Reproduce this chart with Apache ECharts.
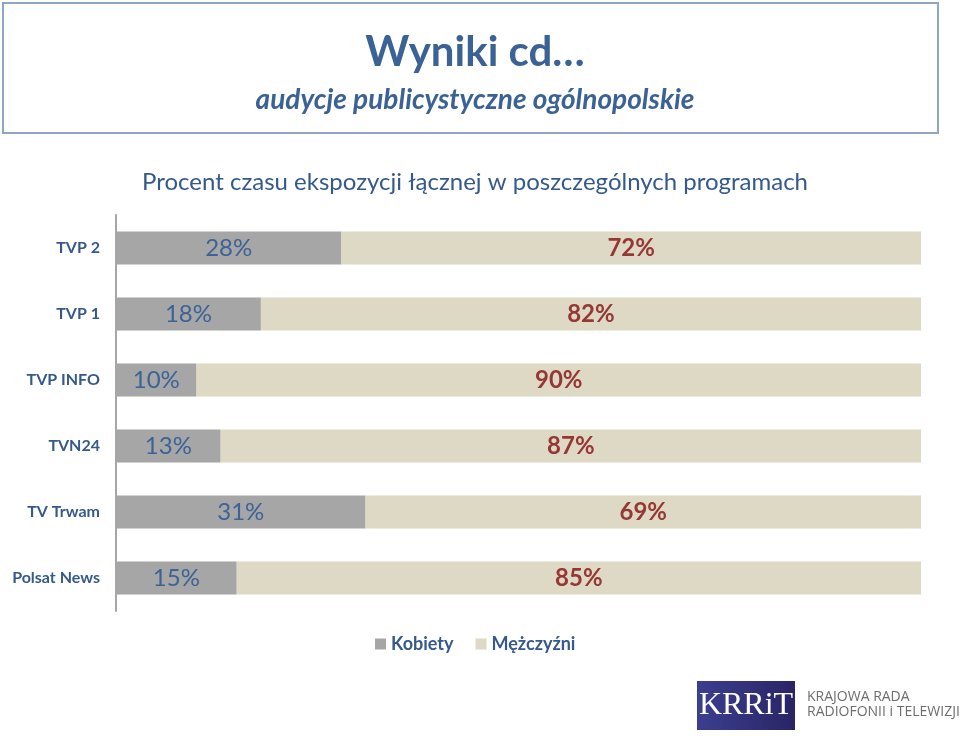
<!DOCTYPE html>
<html>
<head>
<meta charset="utf-8">
<script src="https://cdn.jsdelivr.net/npm/echarts@6/dist/echarts.min.js"></script>
<style>
	html, body { margin: 0; padding: 0; background: #fff; }
	#chart { width: 960px; height: 736px; }
</style>
</head>
<body>
<div id="chart"></div>
<script>
const channels = ["TVP 2", "TVP 1", "TVP INFO", "TVN24", "TV Trwam", "Polsat News"]
const women = [28, 18, 10, 13, 31, 15]
const men = [72, 82, 90, 87, 69, 85]

const FONT = "Lato, 'Open Sans', sans-serif"
const BLUE = "#35598b"

const chartInstance = echarts.init(document.getElementById("chart"))

const options = {
	animation: false,
	textStyle: { fontFamily: FONT },
	title: [
		{
			text: "Wyniki cd…",
			left: 470,
			top: 26,
			textAlign: "center",
			textStyle: { fontSize: 42, fontWeight: "bold", color: "#3a6294", fontFamily: FONT },
		},
		{
			text: "audycje publicystyczne ogólnopolskie",
			left: 470,
			top: 81,
			textAlign: "center",
			textStyle: { fontSize: 28, fontStyle: "italic", fontWeight: "bold", color: "#3a6294", fontFamily: FONT },
		},
		{
			text: "Procent czasu ekspozycji łącznej w poszczególnych programach",
			left: 470,
			top: 165,
			textAlign: "center",
			textStyle: { fontSize: 24, fontWeight: "normal", color: BLUE, fontFamily: FONT },
		},
	],
	graphic: [
		{
			type: "rect",
			shape: { x: 3, y: 3, width: 935, height: 130 },
			style: { fill: "none", stroke: "#8fa7c4", lineWidth: 2 },
		},
		// KRRiT logo
		{
			type: "rect",
			shape: { x: 697, y: 681, width: 98, height: 49 },
			style: {
				fill: new echarts.graphic.LinearGradient(0, 0, 1, 0, [
					{ offset: 0, color: "#3b3f8f" },
					{ offset: 1, color: "#2a2466" },
				]),
			},
		},
		{
			type: "text",
			x: 746,
			y: 706,
			style: {
				text: "KRRiT",
				fill: "#ffffff",
				font: "32px 'Liberation Serif', 'DejaVu Serif', serif",
				align: "center",
				verticalAlign: "middle",
			},
		},
		{
			type: "text",
			x: 807,
			y: 697,
			style: { text: "KRAJOWA RADA", fill: "#6d6d6d", font: "14px 'Open Sans', sans-serif", verticalAlign: "middle" },
		},
		{
			type: "text",
			x: 807,
			y: 712,
			style: { text: "RADIOFONII i TELEWIZJI", fill: "#6d6d6d", font: "14px 'Open Sans', sans-serif", verticalAlign: "middle" },
		},
	],
	legend: {
		bottom: 78,
		left: 370,
		icon: "rect",
		itemWidth: 11,
		itemHeight: 11,
		itemGap: 22,
		textStyle: { fontSize: 18, fontWeight: "bold", color: BLUE, fontFamily: FONT },
		data: ["Kobiety", "Mężczyźni"],
	},
	grid: {
		top: 215,
		left: 116,
		right: 39,
		bottom: 125,
		containLabel: false,
	},
	xAxis: {
		type: "value",
		min: 0,
		max: 100,
		show: false,
	},
	yAxis: {
		type: "category",
		inverse: true,
		data: channels,
		axisLine: { lineStyle: { color: "#a6a6a6", width: 2 } },
		axisTick: { show: false },
		axisLabel: {
			margin: 16,
			fontSize: 16,
			fontWeight: "bold",
			color: BLUE,
			fontFamily: FONT,
		},
	},
	series: [
		{
			name: "Kobiety",
			type: "bar",
			stack: "all",
			barWidth: "50%",
			data: women,
			itemStyle: { color: "#a6a6a6" },
			label: {
				show: true,
				position: "inside",
				formatter: "{c}%",
				fontSize: 24,
				color: "#3c6396",
				fontFamily: FONT,
			},
		},
		{
			name: "Mężczyźni",
			type: "bar",
			stack: "all",
			barWidth: "50%",
			data: men,
			itemStyle: { color: "#ddd9c4" },
			label: {
				show: true,
				position: "inside",
				formatter: "{c}%",
				fontSize: 24,
				fontWeight: "bold",
				color: "#953735",
				fontFamily: FONT,
			},
		},
	],
}

chartInstance.setOption(options)
</script>
</body>
</html>
